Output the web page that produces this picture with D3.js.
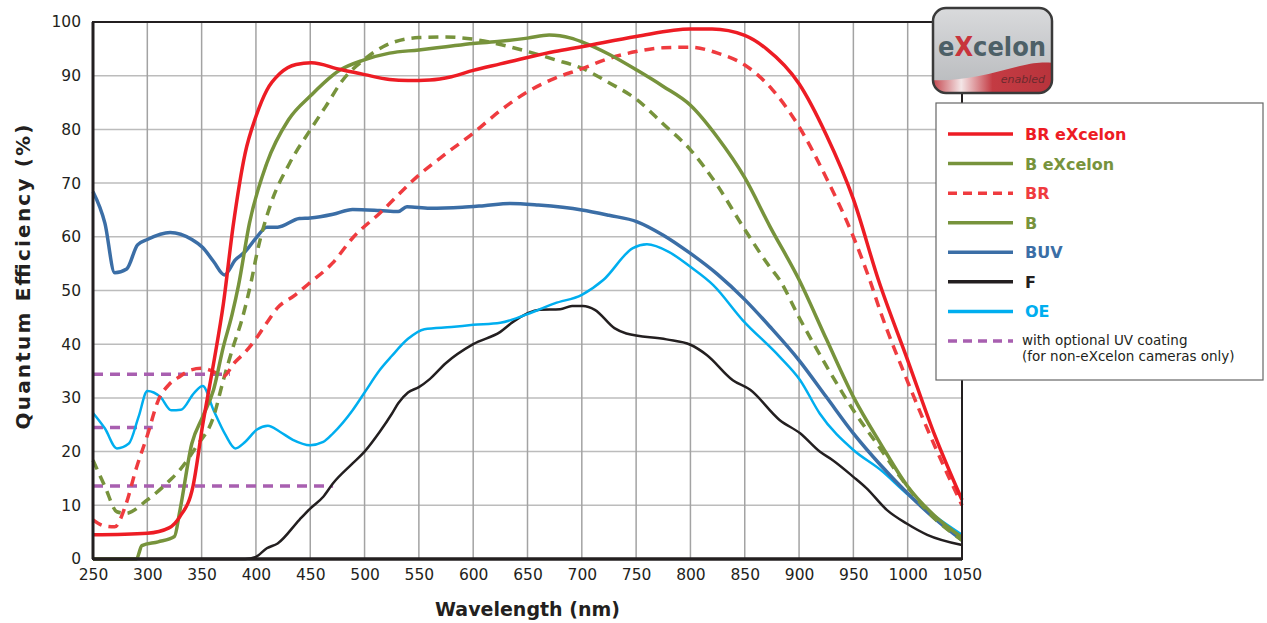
<!DOCTYPE html>
<html>
<head>
<meta charset="utf-8">
<script src="https://cdn.jsdelivr.net/npm/d3@7"></script>
<style>
  body { margin: 0; background: #fff; }
  svg { font-family: "DejaVu Sans", sans-serif; }
</style>
</head>
<body>
<script>
// chart size
var w = 1267;
var h = 623;

// data: wavelength (nm) / quantum efficiency (%)
var brExcelon = [[250,4.5],[300,4.8],[320,5.8],[330,7.9],[342,13.5],[351,25],[361,36.4],[370,47.5],[379,62],[390,75.5],[400,82.4],[410,87.3],[422,90.4],[437,92.1],[451,92.4],[477,91.2],[500,90.2],[523,89.3],[540,89.1],[560,89.2],[580,89.8],[600,91],[625,92.2],[650,93.4],[675,94.5],[700,95.4],[750,97.3],[800,98.7],[820,98.7],[850,97.5],[870,95],[900,88.5],[925,79],[950,67],[973,52],[1000,37],[1025,23],[1050,11]];
var bExcelon = [[250,0],[290,0],[295,2.5],[310,3.2],[325,4.2],[330,9],[341,21.5],[351,26.5],[361,31.5],[370,39.5],[378,45.5],[384,51],[394,62.5],[410,73.7],[430,81.8],[451,86.4],[477,91],[499,92.9],[523,94.2],[550,94.8],[575,95.4],[600,96],[625,96.4],[650,97],[670,97.6],[690,97],[700,96.3],[725,94],[751,91],[775,88],[800,84.5],[825,78.5],[850,71],[873,62],[900,52],[925,41],[950,30.2],[975,21.5],[1000,13.5],[1025,8],[1050,4]];
var br = [[250,7.3],[260,6.2],[270,6],[280,10],[290,17],[300,23],[310,29.5],[320,32.5],[330,34],[340,35.2],[350,35.5],[360,35],[370,34],[380,36.5],[390,38.5],[400,41],[410,44],[420,46.8],[435,49],[450,51.5],[470,55],[490,60],[514,64.4],[550,71.5],[575,75.5],[600,79.3],[625,83.5],[650,87],[675,89.5],[700,91.3],[725,93.2],[750,94.5],[775,95.2],[800,95.3],[825,94.2],[850,92],[875,87.5],[900,80.5],[925,71],[950,60],[965,52],[975,46],[1000,33],[1025,21],[1050,10]];
var b = [[250,18.4],[261,13.5],[272,8.8],[280,8.5],[300,11],[321,14.7],[330,16.6],[345,20.9],[361,26.5],[370,33.3],[379,39.5],[387,44.5],[396,52],[401,57],[414,66.3],[431,73.7],[450,79.9],[464,84.2],[480,89.2],[499,92.9],[517,95.4],[550,97.1],[575,97.2],[600,96.8],[625,95.8],[650,94.5],[675,93],[700,91.4],[725,88.7],[751,85.5],[775,81],[800,76.2],[825,69.5],[848,62],[873,54.4],[882,52],[900,45],[925,36],[950,27.7],[975,20.5],[993,15.3],[1020,8.5],[1050,3.5]];
var buv = [[250,68.4],[261,62.5],[270,53.3],[281,54],[291,58.5],[300,59.5],[321,60.8],[341,59.5],[351,58],[361,55.4],[371,52.9],[381,55.7],[390,57.2],[401,60],[410,61.8],[420,61.8],[440,63.4],[450,63.5],[471,64.2],[489,65.1],[514,64.9],[531,64.7],[539,65.6],[560,65.3],[590,65.5],[610,65.8],[634,66.2],[660,65.9],[700,65],[725,64],[751,62.8],[775,60.3],[800,56.9],[825,53],[850,48.3],[873,43.3],[900,37],[925,30.2],[950,23.4],[975,17.5],[1000,12.2],[1025,7.5],[1050,3.5]];
var f = [[250,0],[390,0],[400,0.4],[410,2],[420,2.9],[440,7.3],[450,9.4],[462,11.6],[471,14.1],[489,17.8],[500,20],[514,23.7],[525,27],[531,29],[540,31],[550,32],[560,33.5],[575,36.5],[600,40],[625,42.3],[637,44.2],[661,46.4],[680,46.5],[691,47.1],[701,47.1],[712,46.4],[730,43],[741,42],[778,40.9],[800,39.9],[815,38],[839,33.3],[855,31.5],[882,25.9],[901,23.4],[919,20],[931,18.4],[950,15.3],[962,13.2],[981,9.1],[999,6.6],[1018,4.5],[1050,2.6]];
var oe = [[250,27.2],[261,24.3],[272,20.6],[283,21.5],[292,26.5],[300,31.3],[312,30.2],[322,27.7],[331,27.8],[343,30.9],[351,32.2],[361,27.7],[372,23.1],[381,20.6],[390,21.8],[401,24.1],[411,24.8],[422,23.7],[434,22.2],[450,21.2],[462,21.8],[471,23.4],[489,27.7],[500,31],[514,35.2],[525,37.8],[540,41],[555,42.8],[580,43.2],[600,43.6],[625,44],[655,46],[675,47.6],[700,49.2],[720,52],[747,57.9],[760,58.6],[780,57.2],[800,54.4],[821,51],[848,44.5],[882,37.7],[901,33.3],[919,27.1],[950,20.3],[975,16.6],[999,12.2],[1025,8],[1050,4.5]];
// optional UV coating levels: [from nm, to nm, %]
var uvCoating = [[250,376,34.4],[250,305,24.5],[250,471,13.6]];

var xTicks = d3.range(250, 1051, 50);
var yTicks = d3.range(0, 101, 10);

var series = [
  { name: "BR eXcelon", values: brExcelon, color: "#ed1c24", width: 3.5, dash: null },
  { name: "B eXcelon", values: bExcelon, color: "#77933c", width: 3.5, dash: null },
  { name: "BR", values: br, color: "#ef3b3f", width: 3.5, dash: "10,7" },
  { name: "B", values: b, color: "#77933c", width: 3.5, dash: "10,7" },
  { name: "BUV", values: buv, color: "#3b6ea6", width: 3.5, dash: null },
  { name: "F", values: f, color: "#231f20", width: 2.5, dash: null },
  { name: "OE", values: oe, color: "#00aeef", width: 2.5, dash: null }
];
// draw order (back to front)
var drawOrder = ["F", "OE", "BUV", "B", "BR", "B eXcelon", "BR eXcelon"];

var margin = { left: 93, right: 305, top: 22, bottom: 64 };

var svg = d3.select("body").append("svg")
  .attr("width", w)
  .attr("height", h);

var x = d3.scaleLinear().domain([250, 1050]).range([margin.left, w - margin.right]);
var y = d3.scaleLinear().domain([0, 100]).range([h - margin.bottom, margin.top]);

// grid
svg.append("g").selectAll("line").data(yTicks).enter().append("line")
  .attr("x1", x(250)).attr("x2", x(1050))
  .attr("y1", function(d) { return y(d); }).attr("y2", function(d) { return y(d); })
  .attr("stroke", "#bcbcbc").attr("stroke-width", 1.5);
svg.append("g").selectAll("line").data(xTicks).enter().append("line")
  .attr("x1", function(d) { return x(d); }).attr("x2", function(d) { return x(d); })
  .attr("y1", y(0)).attr("y2", y(100))
  .attr("stroke", "#a3a3a3").attr("stroke-width", 1.5);

// axes
var xAxis = svg.append("g")
  .attr("transform", "translate(0," + y(0) + ")")
  .call(d3.axisBottom(x).tickValues(xTicks).tickFormat(d3.format("d")).tickSize(0).tickPadding(10));
var yAxis = svg.append("g")
  .attr("transform", "translate(" + x(250) + ",0)")
  .call(d3.axisLeft(y).tickValues(yTicks).tickFormat(d3.format("d")).tickSize(0).tickPadding(12));
[xAxis, yAxis].forEach(function(g) {
  g.select(".domain").remove();
  g.selectAll("text").attr("font-size", 15.5).attr("fill", "#231f20")
    .attr("font-family", "DejaVu Sans, sans-serif");
});

// uv coating lines
svg.append("g").selectAll("line").data(uvCoating).enter().append("line")
  .attr("x1", function(d) { return x(d[0]); })
  .attr("x2", function(d) { return x(d[1]); })
  .attr("y1", function(d) { return y(d[2]); })
  .attr("y2", function(d) { return y(d[2]); })
  .attr("stroke", "#a85fb0").attr("stroke-width", 3.5)
  .attr("stroke-dasharray", "10,7");

var line = d3.line()
  .x(function(d) { return x(d[0]); })
  .y(function(d) { return y(d[1]); })
  .curve(d3.curveMonotoneX);

drawOrder.forEach(function(n) {
  var s = series.filter(function(d) { return d.name === n; })[0];
  svg.append("path")
    .attr("d", line(s.values))
    .attr("fill", "none")
    .attr("stroke", s.color)
    .attr("stroke-width", s.width)
    .attr("stroke-dasharray", s.dash)
    .attr("stroke-linejoin", "round");
});

// frame
svg.append("rect")
  .attr("x", x(250)).attr("y", y(100))
  .attr("width", x(1050) - x(250)).attr("height", y(0) - y(100))
  .attr("fill", "none").attr("stroke", "#231f20").attr("stroke-width", 2);
svg.append("line")
  .attr("x1", x(250)).attr("x2", x(1050)).attr("y1", y(0)).attr("y2", y(0))
  .attr("stroke", "#231f20").attr("stroke-width", 3.5);
svg.append("line")
  .attr("x1", x(250)).attr("x2", x(250)).attr("y1", y(0)).attr("y2", y(100))
  .attr("stroke", "#231f20").attr("stroke-width", 3);

// axis titles
svg.append("text")
  .attr("x", (x(250) + x(1050)) / 2).attr("y", 616)
  .attr("text-anchor", "middle")
  .attr("font-size", 19).attr("font-weight", "bold").attr("fill", "#231f20")
  .text("Wavelength (nm)");
svg.append("text")
  .attr("transform", "translate(30,277) rotate(-90)")
  .attr("text-anchor", "middle")
  .attr("font-size", 20).attr("font-weight", "bold").attr("fill", "#231f20")
  .attr("textLength", 305).attr("lengthAdjust", "spacing")
  .text("Quantum Efficiency (%)");

// legend
var lg = svg.append("g");
lg.append("rect")
  .attr("x", 936).attr("y", 103).attr("width", 327).attr("height", 277)
  .attr("fill", "#fff").attr("stroke", "#666").attr("stroke-width", 1.2);

var legendItems = [
  { label: "BR eXcelon", color: "#ed1c24", dash: null },
  { label: "B eXcelon", color: "#77933c", dash: null },
  { label: "BR", color: "#ef3b3f", dash: "9,6" },
  { label: "B", color: "#77933c", dash: null },
  { label: "BUV", color: "#3b6ea6", dash: null },
  { label: "F", color: "#231f20", dash: null },
  { label: "OE", color: "#00aeef", dash: null }
];
var rowY = d3.scalePoint().domain(d3.range(8)).range([134, 341]);

legendItems.forEach(function(d, i) {
  lg.append("line")
    .attr("x1", 948).attr("x2", 1013)
    .attr("y1", rowY(i)).attr("y2", rowY(i))
    .attr("stroke", d.color).attr("stroke-width", 3.5)
    .attr("stroke-dasharray", d.dash);
  lg.append("text")
    .attr("x", 1025).attr("y", rowY(i) + 6)
    .attr("font-size", 16).attr("font-weight", "bold")
    .attr("fill", d.color)
    .text(d.label);
});
lg.append("line")
  .attr("x1", 948).attr("x2", 1013)
  .attr("y1", rowY(7)).attr("y2", rowY(7))
  .attr("stroke", "#a85fb0").attr("stroke-width", 3.5)
  .attr("stroke-dasharray", "9,6");
lg.append("text")
  .attr("x", 1022).attr("y", rowY(7) + 4)
  .attr("font-size", 13.5).attr("fill", "#231f20")
  .text("with optional UV coating");
lg.append("text")
  .attr("x", 1022).attr("y", rowY(7) + 20)
  .attr("font-size", 13.5).attr("fill", "#231f20")
  .text("(for non-eXcelon cameras only)");

// logo badge
var defs = svg.append("defs");
var gg = defs.append("linearGradient").attr("id", "badge").attr("x1", 0).attr("y1", 0).attr("x2", 0).attr("y2", 1);
gg.append("stop").attr("offset", "0%").attr("stop-color", "#d9dadc");
gg.append("stop").attr("offset", "100%").attr("stop-color", "#b7b9bc");
var rg = defs.append("linearGradient").attr("id", "wave").attr("x1", 0).attr("y1", 0).attr("x2", 1).attr("y2", 0);
rg.append("stop").attr("offset", "0%").attr("stop-color", "#c0373f");
rg.append("stop").attr("offset", "25%").attr("stop-color", "#f4e6e7");
rg.append("stop").attr("offset", "50%").attr("stop-color", "#c43b43");
rg.append("stop").attr("offset", "100%").attr("stop-color", "#b8333b");
defs.append("clipPath").attr("id", "badgeClip").append("rect")
  .attr("x", 933).attr("y", 8).attr("width", 119).attr("height", 85).attr("rx", 13);

var logo = svg.append("g");
logo.append("rect")
  .attr("x", 933).attr("y", 8).attr("width", 119).attr("height", 85).attr("rx", 13)
  .attr("fill", "url(#badge)");
logo.append("path")
  .attr("clip-path", "url(#badgeClip)")
  .attr("d", "M930,80 C960,82 990,74 1020,66 C1035,62 1045,62 1055,63 L1055,95 L930,95 Z")
  .attr("fill", "url(#wave)");
logo.append("rect")
  .attr("x", 933).attr("y", 8).attr("width", 119).attr("height", 85).attr("rx", 13)
  .attr("fill", "none").attr("stroke", "#3a3a3a").attr("stroke-width", 2.5);
var lt = logo.append("text")
  .attr("x", 938).attr("y", 56)
  .attr("font-size", 27).attr("fill", "#4d6067")
  .attr("font-weight", "bold")
  .attr("font-family", "DejaVu Sans, sans-serif")
  .attr("textLength", 108).attr("lengthAdjust", "spacingAndGlyphs");
lt.append("tspan").text("e");
lt.append("tspan").attr("fill", "#c8343c").text("X");
lt.append("tspan").text("celon");
logo.append("text")
  .attr("x", 1045).attr("y", 83).attr("text-anchor", "end")
  .attr("font-size", 11).attr("font-style", "italic").attr("fill", "#6b2a2e")
  .text("enabled");
</script>
</body>
</html>
